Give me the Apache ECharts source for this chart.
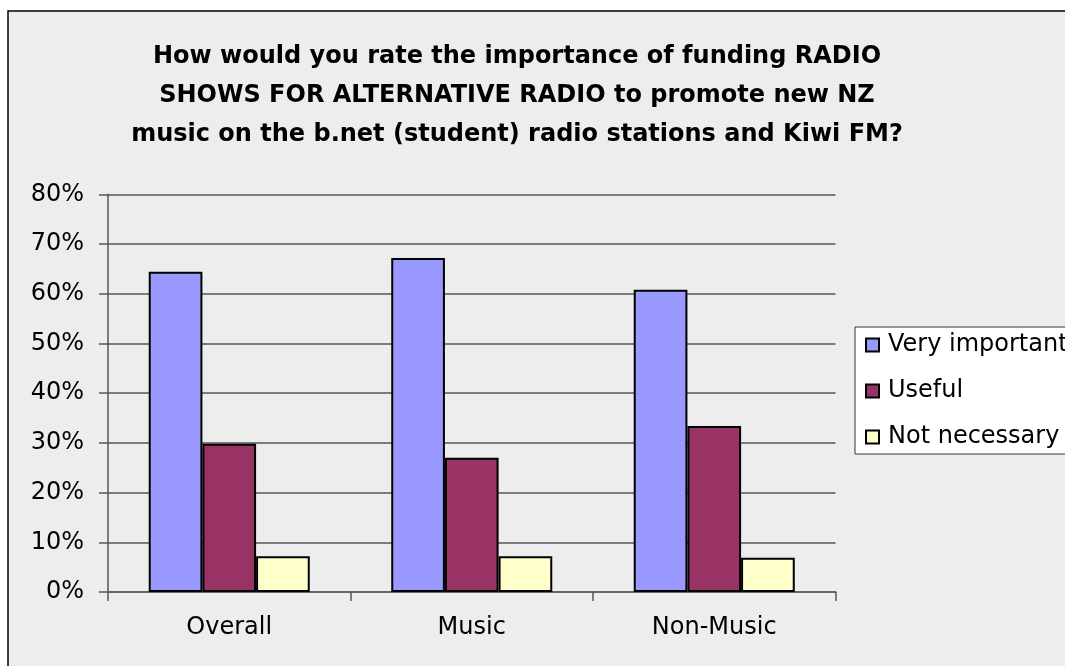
<!DOCTYPE html>
<html>
<head>
<meta charset="utf-8">
<script src="https://cdn.jsdelivr.net/npm/echarts@6/dist/echarts.min.js"></script>
<style>
  html, body { margin: 0; padding: 0; background: #fff; }
  #chart { width: 1065px; height: 666px; }
</style>
</head>
<body>
<div id="chart"></div>
<script>
// rating of funding radio shows, by respondent group
const categories = ['Overall', 'Music', 'Non-Music']
const seriesNames = ['Very important', 'Useful', 'Not necessary']
const veryImportant = [0.644, 0.672, 0.608]
const useful = [0.298, 0.270, 0.334]
const notNecessary = [0.072, 0.072, 0.069]
const yTicks = [0, 0.1, 0.2, 0.3, 0.4, 0.5, 0.6, 0.7, 0.8]

const COLORS = ['#9999FF', '#993366', '#FFFFCC']
const FONT = '"DejaVu Sans", sans-serif'

const chart = echarts.init(document.getElementById('chart'), null, { renderer: 'canvas' })

const values = [veryImportant, useful, notNecessary]

chart.setOption({
  backgroundColor: '#fff',
  animation: false,
  color: COLORS,
  graphic: [
    {
      type: 'rect',
      z: -100,
      shape: { x: 8, y: 11, width: 1100, height: 700 },
      style: { fill: '#EDEDED', stroke: '#000', lineWidth: 1.5 },
      silent: true,
    },
  ],
  title: {
    text: 'How would you rate the importance of funding RADIO\nSHOWS FOR ALTERNATIVE RADIO to promote new NZ\nmusic on the b.net (student) radio stations and Kiwi FM?',
    left: 512,
    top: 32,
    textAlign: 'center',
    textStyle: {
      fontFamily: FONT,
      fontWeight: 'bold',
      fontSize: 24,
      lineHeight: 39,
      color: '#000',
    },
  },
  legend: {
    orient: 'vertical',
    left: 855,
    top: 327,
    padding: [6, 12, 5, 10],
    backgroundColor: '#fff',
    borderColor: '#333',
    borderWidth: 1,
    itemWidth: 13,
    itemHeight: 13,
    itemGap: 22,
    icon: 'rect',
    textStyle: { fontFamily: FONT, fontSize: 24, color: '#000', padding: [0, 0, 0, 4] },
    data: seriesNames,
  },
  grid: { left: 108, right: 229.5, top: 194.3, bottom: 74, containLabel: false },
  xAxis: {
    type: 'category',
    data: categories,
    axisLine: { lineStyle: { color: '#666', width: 2 } },
    axisTick: { show: true, length: 9, lineStyle: { color: '#555', width: 1.5 } },
    axisLabel: { fontFamily: FONT, fontSize: 24, color: '#000', margin: 24 },
  },
  yAxis: {
    type: 'value',
    min: yTicks[0],
    max: yTicks[yTicks.length - 1],
    interval: 0.1,
    axisLine: { show: true, lineStyle: { color: '#555', width: 1.5 } },
    axisTick: { show: true, length: 9, lineStyle: { color: '#555', width: 1.5 } },
    splitLine: { lineStyle: { color: '#555', width: 1.5 } },
    axisLabel: {
      fontFamily: FONT,
      fontSize: 24,
      color: '#000',
      margin: 24,
      formatter: (v) => Math.round(v * 100) + '%',
    },
  },
  series: seriesNames.map((name, i) => ({
    name,
    type: 'bar',
    data: values[i],
    barGap: 0,
    barCategoryGap: '33.6%',
    itemStyle: { color: COLORS[i], borderColor: '#000', borderWidth: 2 },
  })),
})
</script>
</body>
</html>
